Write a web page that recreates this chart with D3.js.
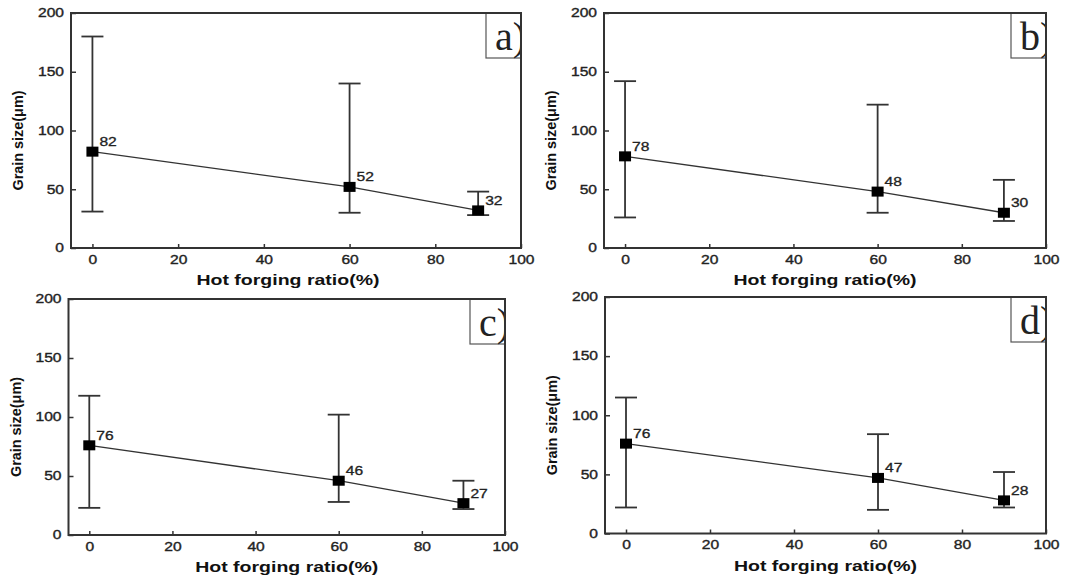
<!DOCTYPE html>
<html><head><meta charset="utf-8">
<script src="https://cdn.jsdelivr.net/npm/d3@7"></script>
<style>body{margin:0;background:#fff}svg{display:block}</style>
</head><body><svg id="chart" width="1074" height="578"></svg>
<script>
// ---- data ----
const forgingRatio = [0, 60, 90];
const panelLetters = ["a)", "b)", "c)", "d)"];
const meanA = [82, 52, 32], upperA = [180, 140, 48], lowerA = [31, 30, 28];
const meanB = [78, 48, 30], upperB = [142, 122, 58], lowerB = [26, 30, 23];
const meanC = [76, 46, 27], upperC = [118, 102, 46], lowerC = [23, 28, 22];
const meanD = [76, 47, 28], upperD = [115, 84, 52], lowerD = [22, 20, 22];
const xTicks = [0, 20, 40, 60, 80, 100];
const yTicks = [0, 50, 100, 150, 200];
const xDomain = [-5, 100];
const yDomain = [0, 200];
const xTitle = "Hot forging ratio(%)";
const yTitle = "Grain size(μm)";

// ---- layout ----
const layout = [
  {left: 71, top: 13, right: 521, bottom: 248, tdx: -8},
  {left: 604, top: 13, right: 1046, bottom: 248, tdx: 0},
  {left: 68.5, top: 299, right: 505, bottom: 535, tdx: 0},
  {left: 605, top: 297, right: 1046, bottom: 533.5, tdx: 0}
];
const series = [
  {mean: meanA, up: upperA, lo: lowerA},
  {mean: meanB, up: upperB, lo: lowerB},
  {mean: meanC, up: upperC, lo: lowerC},
  {mean: meanD, up: upperD, lo: lowerD}
];
const INK = "#333";
const STRETCH = 1.3;
const svg = d3.select("#chart");

function stretch(sel, k) {
  sel.each(function() {
    const w = this.getComputedTextLength();
    this.setAttribute("textLength", w * k);
    this.setAttribute("lengthAdjust", "spacingAndGlyphs");
  });
}

series.forEach((s, i) => {
  const L = layout[i];
  const x = d3.scaleLinear().domain(xDomain).range([L.left, L.right]);
  const y = d3.scaleLinear().domain(yDomain).range([L.bottom, L.top]);
  const g = svg.append("g");

  const clipId = "clip" + i;
  svg.append("clipPath").attr("id", clipId).append("rect")
    .attr("x", L.left).attr("y", L.top)
    .attr("width", L.right - L.left).attr("height", L.bottom - L.top);

  // axes
  const xa = g.append("g").attr("transform", `translate(0,${L.bottom})`)
    .call(d3.axisBottom(x).tickValues(xTicks).tickSize(-4).tickPadding(7).tickFormat(d3.format("d")));
  const ya = g.append("g").attr("transform", `translate(${L.left},0)`)
    .call(d3.axisLeft(y).tickValues(yTicks).tickSize(-5).tickPadding(7).tickFormat(d3.format("d")));
  [xa, ya].forEach(a => {
    a.select(".domain").remove();
    a.selectAll(".tick line").attr("stroke", INK).attr("stroke-width", 1.5);
    a.selectAll(".tick text").attr("fill", "#222").attr("stroke", "#222").attr("stroke-width", 0.35)
      .style("font-family", "'Liberation Sans', Arial, sans-serif").style("font-size", "12px");
  });
  stretch(xa.selectAll(".tick text"), STRETCH);
  stretch(ya.selectAll(".tick text"), STRETCH);

  // titles
  const xt = g.append("text")
    .attr("x", (L.left + L.right) / 2 + L.tdx).attr("y", L.bottom + 37)
    .attr("text-anchor", "middle").attr("fill", "#111")
    .style("font-family", "'Liberation Sans', Arial, sans-serif")
    .style("font-size", "15px").style("font-weight", "bold").text(xTitle);
  stretch(xt, STRETCH);
  g.append("text")
    .attr("transform", `translate(${L.left - 53},${(L.top + L.bottom) / 2 + 10}) rotate(-90)`)
    .attr("text-anchor", "middle").attr("dy", "0.36em").attr("fill", "#111")
    .attr("textLength", 100).attr("lengthAdjust", "spacingAndGlyphs")
    .style("font-family", "'Liberation Sans', Arial, sans-serif")
    .style("font-size", "14px").style("font-weight", "bold").text(yTitle);

  // panel letter box
  const lb = g.append("g").attr("clip-path", `url(#${clipId})`);
  lb.append("rect").attr("x", L.right - 35).attr("y", L.top)
    .attr("width", 40).attr("height", 45)
    .attr("fill", "#fff").attr("stroke", "#555").attr("stroke-width", 1.2);
  lb.append("text").attr("x", L.right - 26).attr("y", L.top + 37)
    .attr("fill", "#222")
    .style("font-family", "'Liberation Serif', 'Times New Roman', serif")
    .style("font-size", "40px").text(panelLetters[i]);

  // frame
  g.append("rect").attr("x", L.left).attr("y", L.top)
    .attr("width", L.right - L.left).attr("height", L.bottom - L.top)
    .attr("fill", "none").attr("stroke", INK).attr("stroke-width", 2);

  const pts = forgingRatio.map((r, j) => ({r, m: s.mean[j], u: s.up[j], l: s.lo[j]}));

  // error bars
  const eb = g.append("g").attr("stroke", INK).attr("stroke-width", 1.8);
  pts.forEach(p => {
    eb.append("line").attr("x1", x(p.r)).attr("x2", x(p.r)).attr("y1", y(p.l)).attr("y2", y(p.u));
    eb.append("line").attr("x1", x(p.r) - 11).attr("x2", x(p.r) + 11).attr("y1", y(p.u)).attr("y2", y(p.u));
    eb.append("line").attr("x1", x(p.r) - 11).attr("x2", x(p.r) + 11).attr("y1", y(p.l)).attr("y2", y(p.l));
  });

  // connecting line
  g.append("path").datum(pts)
    .attr("d", d3.line().x(p => x(p.r)).y(p => y(p.m)))
    .attr("fill", "none").attr("stroke", INK).attr("stroke-width", 1.3);

  // markers
  g.selectAll(null).data(pts).join("rect")
    .attr("x", p => x(p.r) - 6).attr("y", p => y(p.m) - 5)
    .attr("width", 12).attr("height", 10).attr("fill", "#000");

  // value labels
  const vl = g.selectAll(null).data(pts).join("text")
    .attr("x", p => x(p.r) + 7).attr("y", p => y(p.m) - 5.5)
    .attr("fill", "#222").attr("stroke", "#222").attr("stroke-width", 0.3)
    .style("font-family", "'Liberation Sans', Arial, sans-serif").style("font-size", "12px")
    .text(p => p.m);
  stretch(vl, STRETCH);
});
</script>
</body></html>
